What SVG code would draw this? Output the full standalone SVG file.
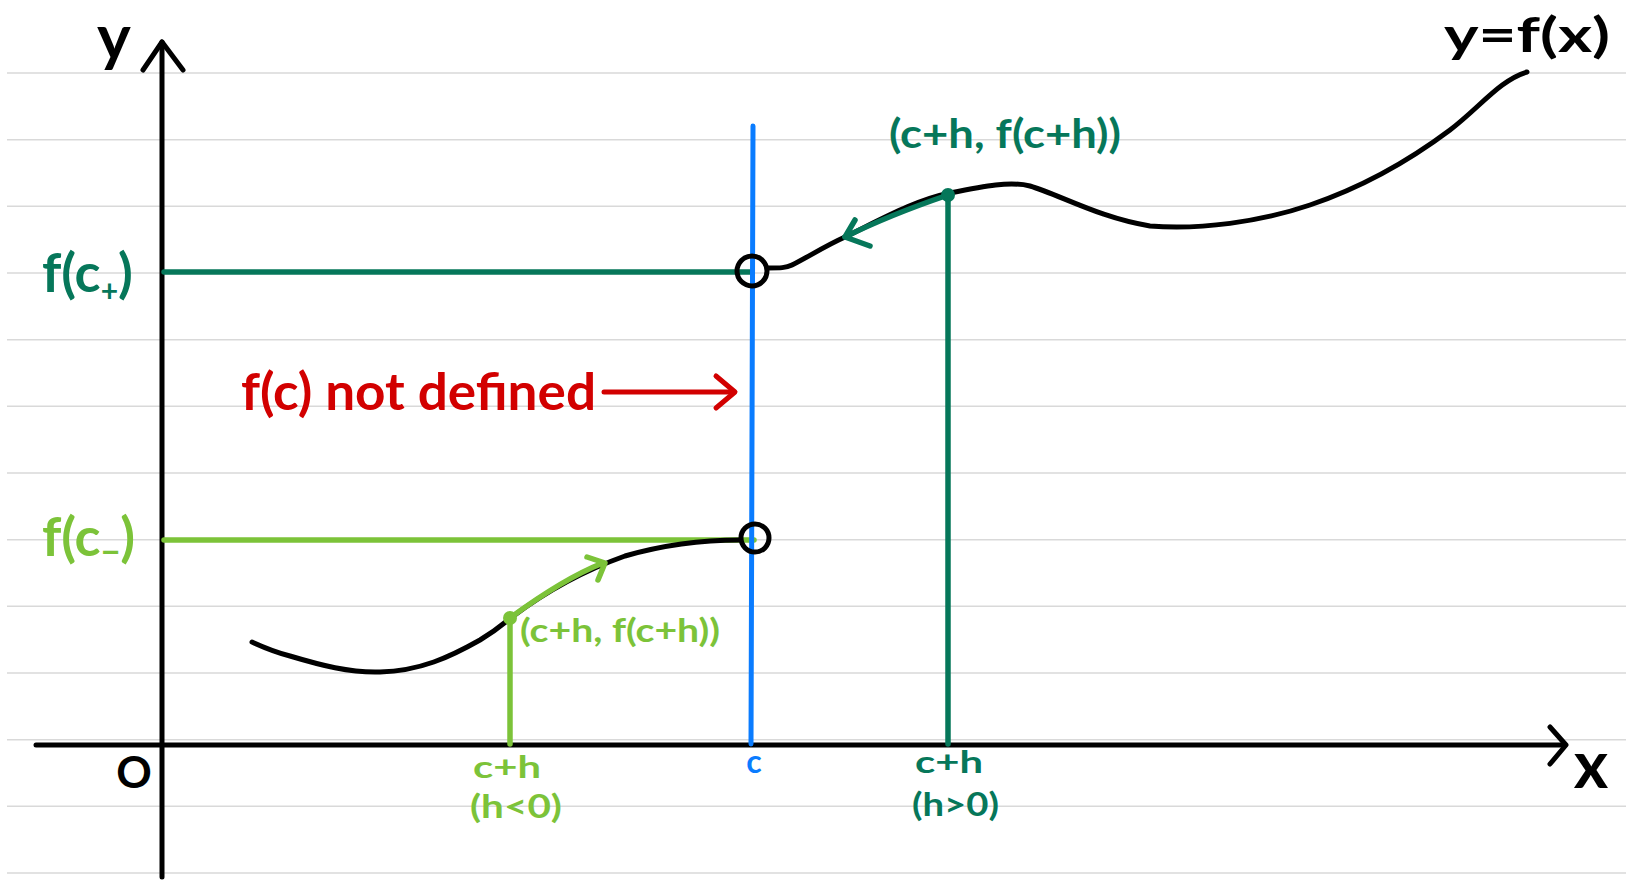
<svg xmlns="http://www.w3.org/2000/svg" width="1631" height="880" viewBox="0 0 1631 880">
<style>
.grid{stroke:#d9d9d9;stroke-width:1.6;fill:none}
.ax{stroke:#000;stroke-width:5;fill:none;stroke-linecap:round;stroke-linejoin:round}
.crv{stroke:#000;stroke-width:5;fill:none;stroke-linecap:round;stroke-linejoin:round}
.dg{stroke:#06775a;stroke-width:5.5;fill:none;stroke-linecap:round;stroke-linejoin:round}
.lg{stroke:#7cc339;stroke-width:5.5;fill:none;stroke-linecap:round;stroke-linejoin:round}
.bl{stroke:#0a7cff;stroke-width:5;fill:none;stroke-linecap:round}
.rd{stroke:#d20000;stroke-width:5;fill:none;stroke-linecap:round;stroke-linejoin:round}
text{font-family:Lato,"Noto Sans",sans-serif;font-weight:bold}
.tk{fill:#000}
.tdg{fill:#06775a}
.tlg{fill:#7cc339}
.tbl{fill:#0a7cff}
.trd{fill:#d20000}
</style>
<rect width="1631" height="880" fill="#fff"/>
<g id="grid">
<line class="grid" x1="7" y1="73" x2="1626" y2="73"/>
<line class="grid" x1="7" y1="139.7" x2="1626" y2="139.7"/>
<line class="grid" x1="7" y1="206.3" x2="1626" y2="206.3"/>
<line class="grid" x1="7" y1="273" x2="1626" y2="273"/>
<line class="grid" x1="7" y1="339.7" x2="1626" y2="339.7"/>
<line class="grid" x1="7" y1="406.3" x2="1626" y2="406.3"/>
<line class="grid" x1="7" y1="473" x2="1626" y2="473"/>
<line class="grid" x1="7" y1="539.7" x2="1626" y2="539.7"/>
<line class="grid" x1="7" y1="606.3" x2="1626" y2="606.3"/>
<line class="grid" x1="7" y1="673" x2="1626" y2="673"/>
<line class="grid" x1="7" y1="739.7" x2="1626" y2="739.7"/>
<line class="grid" x1="7" y1="806.3" x2="1626" y2="806.3"/>
<line class="grid" x1="7" y1="873" x2="1626" y2="873"/>
</g>
<g id="axes">
<line class="ax" x1="162" y1="42" x2="162" y2="877"/>
<polyline class="ax" points="143,70 162,42 183,70"/>
<line class="ax" x1="36" y1="745" x2="1565" y2="745"/>
<polyline class="ax" points="1550,727 1566,745 1550,764"/>
</g>
<g id="connectors">
<line class="dg" x1="164" y1="272" x2="752" y2="272"/>
<line class="lg" x1="164" y1="540" x2="754" y2="540"/>
<line class="bl" x1="753" y1="126" x2="751" y2="744"/>
<line class="dg" x1="948" y1="195" x2="948" y2="744"/>
<line class="lg" x1="510" y1="618" x2="510" y2="744"/>
<path class="crv" d="M768,268 C780,268 786,268 792,265 C808,257 825,246 845,237 C880,220 915,200 950,193 C985,186 1010,181 1030,186 C1060,195 1100,218 1150,226 C1200,230 1260,222 1310,205 C1360,188 1410,160 1450,130 C1480,107 1500,80 1527,72"/>
<path class="crv" d="M252,642 C265,648 275,652 290,656 C320,665 350,673 380,672 C420,671 450,657 480,640 C500,628 505,622 512,617 C540,596 580,572 625,556 C670,543 710,540 740,540"/>
<circle class="crv" cx="752" cy="271" r="15" stroke-width="5.5"/>
<circle class="crv" cx="755" cy="538" r="14" stroke-width="5.5"/>
<circle cx="948" cy="195" r="7" fill="#06775a"/>
<circle cx="510" cy="618" r="7" fill="#7cc339"/>
<path class="dg" d="M948,195 C910,208 875,222 845,237"/>
<polyline class="dg" points="855,220 845,237 870,246"/>
<path class="lg" d="M510,618 C540,596 570,576 603,563"/>
<polyline class="lg" points="587,557 605,563 598,580"/>
<line class="rd" x1="604" y1="392" x2="734" y2="392"/>
<polyline class="rd" points="716,376 735,392 716,408"/>
</g>
<g id="labels">
<text class="tk" x="114" y="60" font-size="64" text-anchor="middle">y</text>
<text class="tk" x="1527" y="52" font-size="48" text-anchor="middle" textLength="166" lengthAdjust="spacingAndGlyphs">y=f(x)</text>
<text class="tk" x="134" y="788" font-size="44" text-anchor="middle">O</text>
<text class="tk" x="1591" y="788" font-size="66" text-anchor="middle">x</text>
<text class="tdg" x="42" y="292" font-size="54">f(c<tspan font-size="30" dy="10">+</tspan><tspan dy="-10">)</tspan></text>
<text class="tlg" x="42" y="556" font-size="54">f(c<tspan font-size="34" dy="8">−</tspan><tspan dy="-8">)</tspan></text>
<text class="tdg" x="889" y="148" font-size="40" textLength="232" lengthAdjust="spacingAndGlyphs">(c+h, f(c+h))</text>
<text class="tlg" x="520" y="642" font-size="32" textLength="200" lengthAdjust="spacingAndGlyphs">(c+h, f(c+h))</text>
<text class="trd" x="241" y="410" font-size="52" textLength="355" lengthAdjust="spacingAndGlyphs">f(c) not defined</text>
<text class="tlg" x="473" y="778" font-size="30" textLength="68" lengthAdjust="spacingAndGlyphs">c+h</text>
<text class="tlg" x="470" y="818" font-size="32" textLength="92" lengthAdjust="spacingAndGlyphs">(h&lt;0)</text>
<text class="tbl" x="754" y="773" font-size="32" text-anchor="middle">c</text>
<text class="tdg" x="915" y="773" font-size="30" textLength="68" lengthAdjust="spacingAndGlyphs">c+h</text>
<text class="tdg" x="912" y="816" font-size="32" textLength="87" lengthAdjust="spacingAndGlyphs">(h&gt;0)</text>
</g>
</svg>
